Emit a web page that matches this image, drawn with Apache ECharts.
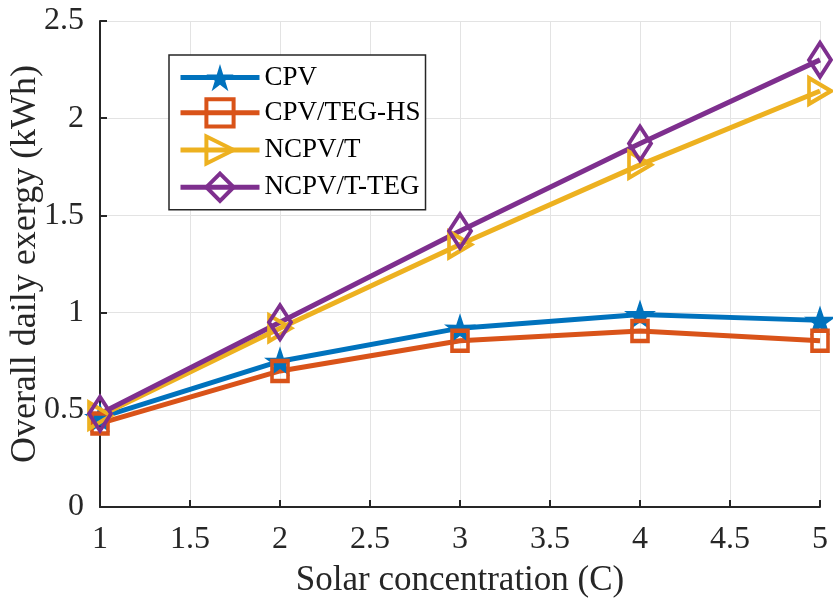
<!DOCTYPE html>
<html>
<head>
<meta charset="utf-8">
<script src="https://cdn.jsdelivr.net/npm/echarts@6/dist/echarts.min.js"></script>
<style>
  html, body { margin: 0; padding: 0; background: #fff; }
  #chart { width: 833px; height: 601px; }
</style>
</head>
<body>
<div id="chart"></div>
<script>
// 数据
var concentration = [1, 2, 3, 4, 5];
var cpv = [0.46, 0.75, 0.92, 0.99, 0.96];
var cpvTegHs = [0.43, 0.70, 0.855, 0.905, 0.855];
var ncpvT = [0.47, 0.92, 1.35, 1.76, 2.14];
var ncpvTTeg = [0.48, 0.95, 1.42, 1.87, 2.30];

var seriesNames = ['CPV', 'CPV/TEG-HS', 'NCPV/T', 'NCPV/T-TEG'];
var colors = ['#0072BD', '#D95319', '#EDB120', '#7E2F8E'];

var starPath = 'path://M50 0 L61.17 34.63 L97.55 34.55 L68.07 55.87 L79.39 90.45 L50 69 L20.61 90.45 L31.93 55.87 L2.45 34.55 L38.83 34.63 Z';

function pairs(ys) {
    return concentration.map(function (x, i) { return [x, ys[i]]; });
}

var myChart = echarts.init(document.getElementById('chart'));

var font = 'Liberation Serif, Times New Roman, serif';

function makeSeries(idx, data, symbol, size, rotate, hollow) {
    return {
        name: seriesNames[idx],
        type: 'line',
        data: pairs(data),
        symbol: symbol,
        symbolSize: size,
        symbolRotate: rotate,
        showAllSymbol: true,
        clip: false,
        lineStyle: { color: colors[idx], width: 5 },
        itemStyle: hollow ? {
            color: 'rgba(255,255,255,0)',
            borderColor: colors[idx],
            borderWidth: 4
        } : {
            color: colors[idx],
            borderWidth: 0
        },
        emphasis: { disabled: true }
    };
}

var option = {
    animation: false,
    textStyle: { fontFamily: font },
    grid: { left: 100, right: 13, top: 21, bottom: 94, outerBoundsMode: 'none' },
    legend: {
        orient: 'vertical',
        left: 169,
        top: 55,
        padding: [9, 5, 7, 9],
        itemWidth: 79,
        itemHeight: 34,
        itemGap: 6,
        borderColor: '#262626',
        borderWidth: 1.5,
        backgroundColor: '#fff',
        lineStyle: { width: 5 },
        textStyle: { fontFamily: font, fontSize: 27, color: '#000' },
        data: [
            { name: seriesNames[0], itemStyle: { borderWidth: 0 } },
            { name: seriesNames[1], itemStyle: { borderWidth: 4 } },
            { name: seriesNames[2], itemStyle: { borderWidth: 4 } },
            { name: seriesNames[3], itemStyle: { borderWidth: 4 } }
        ]
    },
    xAxis: {
        type: 'value',
        min: 1,
        max: 5,
        interval: 0.5,
        name: 'Solar concentration (C)',
        nameLocation: 'middle',
        nameGap: 56,
        nameMoveOverlap: false,
        nameTextStyle: { fontFamily: font, fontSize: 35, color: '#262626' },
        axisLine: { show: true, lineStyle: { color: '#262626', width: 2 } },
        axisTick: { show: true, inside: true, length: 7, lineStyle: { color: '#262626', width: 2 } },
        axisLabel: { fontFamily: font, fontSize: 32, color: '#262626', margin: 17 },
        splitLine: { show: true, lineStyle: { color: '#e3e3e3', width: 1 } }
    },
    yAxis: {
        type: 'value',
        min: 0,
        max: 2.5,
        interval: 0.5,
        name: 'Overall daily exergy (kWh)',
        nameLocation: 'middle',
        nameGap: 56,
        nameMoveOverlap: false,
        nameTextStyle: { fontFamily: font, fontSize: 36, color: '#262626' },
        axisLine: { show: true, lineStyle: { color: '#262626', width: 2 } },
        axisTick: { show: true, inside: true, length: 7, lineStyle: { color: '#262626', width: 2 } },
        axisLabel: { fontFamily: font, fontSize: 32, color: '#262626', margin: 16 },
        splitLine: { show: true, lineStyle: { color: '#e3e3e3', width: 1 } }
    },
    series: [
        makeSeries(0, cpv, starPath, [32, 30], 0, false),
        makeSeries(1, cpvTegHs, 'rect', [16, 20], 0, true),
        makeSeries(2, ncpvT, 'triangle', [26, 22], -90, true),
        makeSeries(3, ncpvTTeg, 'diamond', [22, 34], 0, true)
    ]
};

myChart.setOption(option);
</script>
</body>
</html>
